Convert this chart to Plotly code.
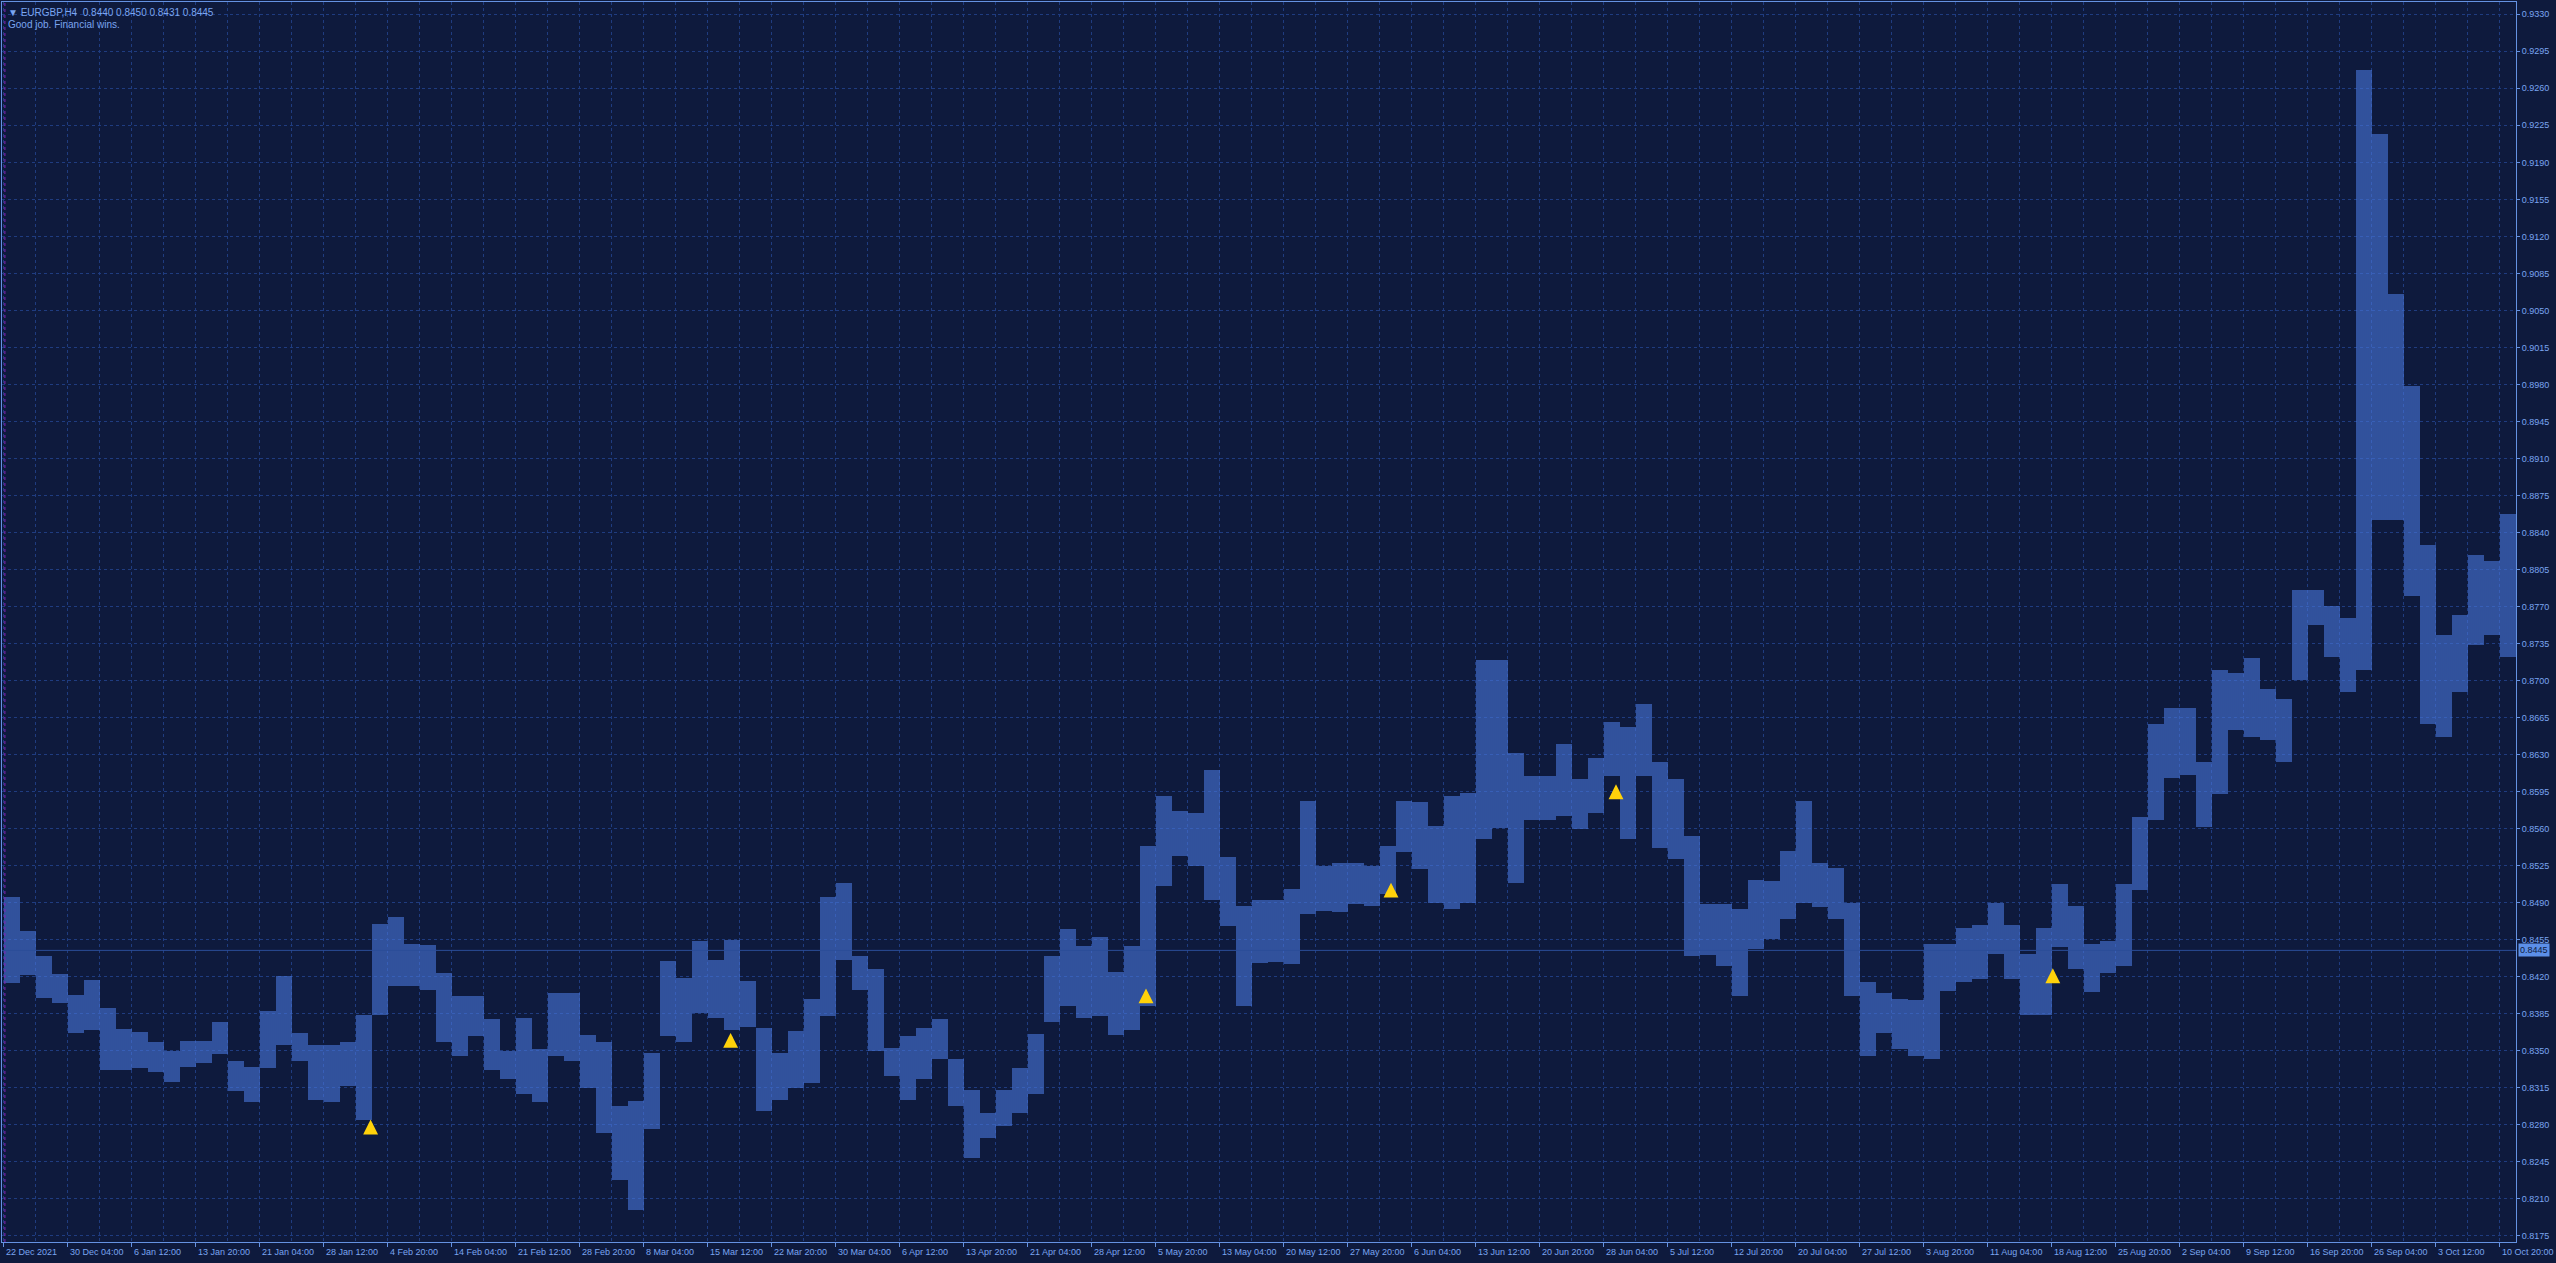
import plotly.graph_objects as go

# ---------------- data ----------------
# H4 EURGBP, sampled every 8 bars: high / low of each sample
high = [0.8495, 0.8463, 0.8440, 0.8423, 0.8403, 0.8417, 0.8391, 0.8371, 0.8368, 0.8358,
        0.8350, 0.8359, 0.8359, 0.8377, 0.8340, 0.8335, 0.8388, 0.8421, 0.8367, 0.8356,
        0.8356, 0.8358, 0.8384, 0.8470, 0.8477, 0.8451, 0.8450, 0.8424, 0.8402, 0.8402,
        0.8380, 0.8350, 0.8381, 0.8352, 0.8405, 0.8405, 0.8365, 0.8358, 0.8298, 0.8303,
        0.8348, 0.8435, 0.8419, 0.8454, 0.8436, 0.8455, 0.8416, 0.8372, 0.8348, 0.8369,
        0.8399, 0.8495, 0.8509, 0.8440, 0.8427, 0.8353, 0.8364, 0.8372, 0.8380, 0.8342,
        0.8313, 0.8291, 0.8313, 0.8334, 0.8366, 0.8440, 0.8465, 0.8449, 0.8458, 0.8425,
        0.8449, 0.8544, 0.8591, 0.8577, 0.8575, 0.8616, 0.8533, 0.8487, 0.8493, 0.8493,
        0.8503, 0.8586, 0.8525, 0.8528, 0.8528, 0.8525, 0.8544, 0.8586, 0.8585, 0.8563,
        0.8591, 0.8594, 0.8720, 0.8720, 0.8632, 0.8610, 0.8610, 0.8640, 0.8607, 0.8627,
        0.8661, 0.8656, 0.8678, 0.8623, 0.8607, 0.8553, 0.8489, 0.8489, 0.8484, 0.8512,
        0.8511, 0.8539, 0.8586, 0.8528, 0.8523, 0.8490, 0.8415, 0.8405, 0.8399, 0.8398,
        0.8451, 0.8451, 0.8466, 0.8469, 0.8490, 0.8469, 0.8442, 0.8466, 0.8508, 0.8487,
        0.8451, 0.8454, 0.8508, 0.8571, 0.8659, 0.8674, 0.8674, 0.8623, 0.8710, 0.8707,
        0.8721, 0.8692, 0.8683, 0.8786, 0.8786, 0.8771, 0.8759, 0.9277, 0.9217, 0.9066,
        0.8979, 0.8828, 0.8743, 0.8762, 0.8819, 0.8813, 0.8858]
low = [0.8414, 0.8422, 0.8400, 0.8395, 0.8367, 0.8370, 0.8332, 0.8332, 0.8334, 0.8330,
       0.8321, 0.8335, 0.8339, 0.8347, 0.8312, 0.8302, 0.8334, 0.8356, 0.8340, 0.8304,
       0.8302, 0.8317, 0.8285, 0.8384, 0.8411, 0.8411, 0.8408, 0.8358, 0.8345, 0.8364,
       0.8332, 0.8323, 0.8309, 0.8302, 0.8345, 0.8340, 0.8315, 0.8272, 0.8228, 0.8200,
       0.8276, 0.8364, 0.8358, 0.8386, 0.8381, 0.8370, 0.8373, 0.8293, 0.8304, 0.8315,
       0.8320, 0.8383, 0.8436, 0.8408, 0.8350, 0.8326, 0.8304, 0.8323, 0.8342, 0.8298,
       0.8249, 0.8268, 0.8279, 0.8291, 0.8309, 0.8377, 0.8392, 0.8381, 0.8383, 0.8365,
       0.8370, 0.8392, 0.8506, 0.8534, 0.8525, 0.8493, 0.8468, 0.8392, 0.8433, 0.8434,
       0.8432, 0.8479, 0.8482, 0.8481, 0.8489, 0.8487, 0.8498, 0.8538, 0.8522, 0.8490,
       0.8484, 0.8490, 0.8550, 0.8561, 0.8509, 0.8568, 0.8568, 0.8572, 0.8560, 0.8575,
       0.8610, 0.8550, 0.8610, 0.8542, 0.8531, 0.8440, 0.8441, 0.8430, 0.8402, 0.8446,
       0.8456, 0.8475, 0.8490, 0.8486, 0.8475, 0.8402, 0.8345, 0.8367, 0.8352, 0.8345,
       0.8342, 0.8407, 0.8415, 0.8418, 0.8442, 0.8418, 0.8384, 0.8384, 0.8448, 0.8427,
       0.8406, 0.8424, 0.8430, 0.8502, 0.8568, 0.8608, 0.8611, 0.8562, 0.8593, 0.8653,
       0.8647, 0.8644, 0.8623, 0.8701, 0.8753, 0.8722, 0.8689, 0.8710, 0.8852, 0.8852,
       0.8780, 0.8659, 0.8647, 0.8689, 0.8734, 0.8743, 0.8722]
SAMPLE_BARS = 8  # H4 bars per sample

# yellow buy arrows: bar index and price at arrow tip
arrow_bar = [183.3, 363.3, 571.0, 693.5, 806.0, 1024.4]
arrow_price = [0.8285, 0.8367, 0.8409, 0.8509, 0.8602, 0.8428]

# x axis date labels, one every 32 bars
date_labels = ["22 Dec 2021", "30 Dec 04:00", "6 Jan 12:00", "13 Jan 20:00", "21 Jan 04:00",
               "28 Jan 12:00", "4 Feb 20:00", "14 Feb 04:00", "21 Feb 12:00", "28 Feb 20:00",
               "8 Mar 04:00", "15 Mar 12:00", "22 Mar 20:00", "30 Mar 04:00", "6 Apr 12:00",
               "13 Apr 20:00", "21 Apr 04:00", "28 Apr 12:00", "5 May 20:00", "13 May 04:00",
               "20 May 12:00", "27 May 20:00", "6 Jun 04:00", "13 Jun 12:00", "20 Jun 20:00",
               "28 Jun 04:00", "5 Jul 12:00", "12 Jul 20:00", "20 Jul 04:00", "27 Jul 12:00",
               "3 Aug 20:00", "11 Aug 04:00", "18 Aug 12:00", "25 Aug 20:00", "2 Sep 04:00",
               "9 Sep 12:00", "16 Sep 20:00", "26 Sep 04:00", "3 Oct 12:00", "10 Oct 20:00"]
LABEL_STEP = 32

# y axis price labels
price_ticks = [0.8175 + 0.0035 * k for k in range(34)]
bid_price = 0.8445
symbol_text = "EURGBP,H4  0.8440 0.8450 0.8431 0.8445"
comment_text = "Good job. Financial wins."

# ---------------- style ----------------
BG = "#0e1a3d"
GRID = "#1f3c80"
FRAME = "#6592e2"
BARC = "#4776dc"
TEXT = "#7aa5f0"
FONT = "Liberation Sans"

x_centers = [SAMPLE_BARS * i + SAMPLE_BARS / 2 - 0.25 for i in range(len(high))]

fig = go.Figure()
fig.add_trace(go.Bar(
    x=x_centers,
    y=[h - l for h, l in zip(high, low)],
    base=low,
    width=SAMPLE_BARS,
    marker=dict(
        color=BARC,
        line=dict(width=0),
        pattern=dict(shape="|", size=2, solidity=0.6, fgcolor=BARC,
                     bgcolor="rgba(0,0,0,0)", fillmode="replace"),
    ),
    hoverinfo="skip",
    showlegend=False,
))

# bid line
fig.add_shape(type="line", xref="paper", x0=0, x1=1, yref="y", y0=bid_price, y1=bid_price,
              line=dict(color="#2b4d98", width=1))
# period separator at the left edge
fig.add_shape(type="line", xref="x", x0=0.45, x1=0.45, yref="paper", y0=0, y1=1,
              line=dict(color="#8a22b8", width=1, dash="3px,3px"))

annotations = []
for b, p in zip(arrow_bar, arrow_price):
    annotations.append(dict(x=b, y=p, xref="x", yref="y", ax=0, ay=15, text="",
                            showarrow=True, arrowhead=2, arrowsize=0.85, arrowwidth=3.5,
                            arrowcolor="#ffd20a", standoff=0))

for k, lab in enumerate(date_labels):
    annotations.append(dict(x=k * LABEL_STEP - 0.4, y=0, xref="x", yref="paper",
                            text=lab, showarrow=False, xanchor="left", yanchor="top",
                            xshift=1, yshift=-3, font=dict(family=FONT, size=9, color=TEXT)))

# price tag
annotations.append(dict(x=1, y=bid_price, xref="paper", yref="y", text=f"{bid_price:.4f}",
                        showarrow=False, xanchor="left", yanchor="middle", xshift=2,
                        bgcolor="#5c8fe8", borderpad=1,
                        font=dict(family=FONT, size=9, color="#0e1a3d")))
# header
annotations.append(dict(x=0, y=1, xref="paper", yref="paper",
                        text="▼ " + symbol_text, showarrow=False,
                        xanchor="left", yanchor="top", xshift=4, yshift=-3,
                        font=dict(family=FONT, size=10, color=TEXT)))
annotations.append(dict(x=0, y=1, xref="paper", yref="paper",
                        text=comment_text, showarrow=False,
                        xanchor="left", yanchor="top", xshift=4, yshift=-15,
                        font=dict(family=FONT, size=10, color=TEXT)))

fig.update_layout(
    width=2556, height=1263,
    margin=dict(l=2, r=40, t=2, b=21),
    paper_bgcolor=BG, plot_bgcolor=BG,
    bargap=0,
    annotations=annotations,
    xaxis=dict(
        range=[-1, 1256], tickmode="linear", tick0=-0.4, dtick=LABEL_STEP,
        showticklabels=False, ticks="outside", ticklen=4, tickcolor=FRAME,
        showgrid=True, gridcolor=GRID, griddash="3px,3px", gridwidth=1,
        minor=dict(tickmode="linear", tick0=-0.4, dtick=LABEL_STEP / 2, showgrid=True,
                   gridcolor=GRID, griddash="3px,3px", ticks=""),
        showline=True, linecolor=FRAME, linewidth=1, mirror=True,
        zeroline=False, fixedrange=True,
    ),
    yaxis=dict(
        range=[0.81693, 0.93416], side="right",
        tickmode="array", tickvals=price_ticks,
        ticktext=[f"{v:.4f}" for v in price_ticks],
        ticks="outside", ticklen=3, tickcolor=FRAME,
        tickfont=dict(family=FONT, size=9, color=TEXT),
        showgrid=True, gridcolor=GRID, griddash="3px,3px", gridwidth=1,
        showline=True, linecolor=FRAME, linewidth=1, mirror=True,
        zeroline=False,
    ),
)

fig.write_html(
    "out.html",
    config={"displayModeBar": False},
    post_script=("document.body.style.margin='0';"
                 "document.body.style.overflow='hidden';"
                 "document.documentElement.style.overflow='hidden';"
                 f"document.body.style.background='{BG}';"),
)
